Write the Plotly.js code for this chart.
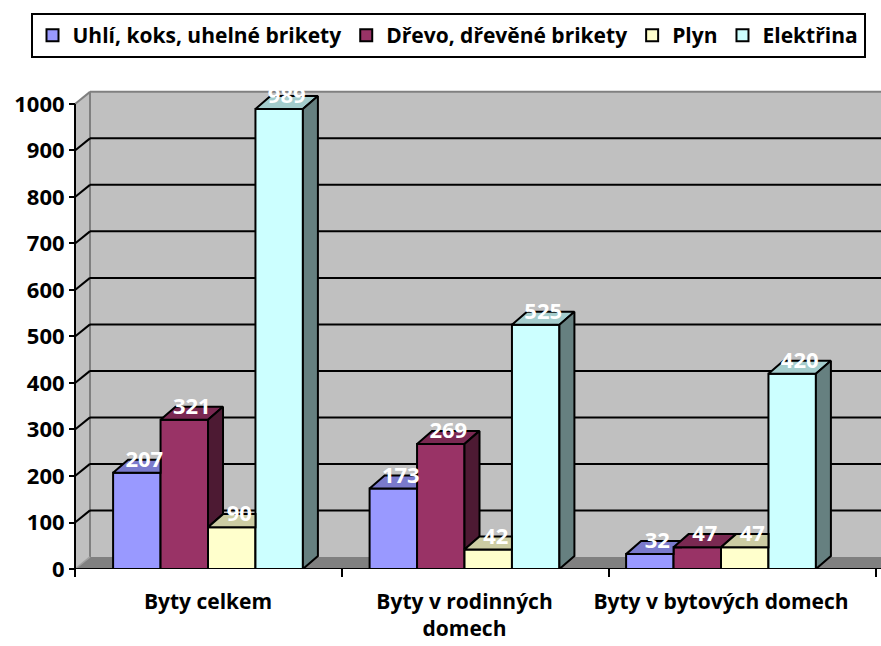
<!DOCTYPE html>
<html>
<head>
<meta charset="utf-8">
<script src="https://cdn.plot.ly/plotly-3.0.1.min.js"></script>
<style>html,body{margin:0;padding:0;background:#fff;}#chart{width:881px;height:646px;}</style>
</head>
<body>
<div id="chart"></div>
<script>
// ---- data ----
const categories = ['Byty celkem', 'Byty v rodinných domech', 'Byty v bytových domech'];
const tickLabels = ['Byty celkem', 'Byty v rodinných<br>domech', 'Byty v bytových domech'];
const seriesNames = ['Uhlí, koks, uhelné brikety', 'Dřevo, dřevěné brikety', 'Plyn', 'Elektřina'];
const uhli = [207, 173, 32];
const drevo = [321, 269, 47];
const plyn = [90, 42, 47];
const elektrina = [989, 525, 420];
const yTicks = [0, 100, 200, 300, 400, 500, 600, 700, 800, 900, 1000];

// ---- style ----
const frontColors = ['#9999FF', '#993366', '#FFFFCC', '#CCFFFF'];
const topColors = ['#7A7ACC', '#7A2952', '#CCCCA3', '#A3CCCC'];
const sideColors = ['#4D4D80', '#4D1A33', '#808066', '#668080'];
const FONT = 'Open Sans, Noto Sans, sans-serif';

const allSeries = [uhli, drevo, plyn, elektrina];
const catX = categories.map((c, j) => j);
const W = 0.185;      // bar width (x units)
const DX = 0.0585;    // depth shift x (x units)
const DY = 28;        // depth shift y (value units)
const WALL_DY = 26;
const FW = 881, PH = 479;
const P = px => px / FW;   // pixel -> paper (plot spans full width)

const traces = [];
allSeries.forEach((vals, i) => {
  traces.push({
    type: 'bar', name: seriesNames[i], x: catX, y: vals,
    width: W, offset: -2 * W + i * W,
    marker: {color: frontColors[i], line: {color: '#000', width: 2}},
    hoverinfo: 'name+y'
  });
});

// depth faces computed from the same values
allSeries.forEach((vals, i) => {
  const tx = [], ty = [], sx = [], sy = [];
  vals.forEach((v, j) => {
    const xl = catX[j] - 2 * W + i * W, xr = xl + W;
    const w = i < allSeries.length - 1 ? allSeries[i + 1][j] : null;
    let pts;
    if (w !== null && w >= v + DY) {
      pts = [[xl, v], [xr, v], [xr, v + DY], [xl + DX, v + DY]];
    } else if (w !== null && w > v) {
      pts = [[xl, v], [xr, v], [xr, w], [xr + (w - v) / DY * DX, w], [xr + DX, v + DY], [xl + DX, v + DY]];
    } else {
      pts = [[xl, v], [xr, v], [xr + DX, v + DY], [xl + DX, v + DY]];
    }
    pts.push(pts[0]);
    pts.forEach(p => { tx.push(p[0]); ty.push(p[1]); });
    tx.push(null); ty.push(null);
    let b = 0, show = true;
    if (w !== null) { if (w >= v) show = false; else b = w; }
    if (show) {
      const sp = [[xr, b], [xr + DX, b + DY], [xr + DX, v + DY], [xr, v], [xr, b]];
      sp.forEach(p => { sx.push(p[0]); sy.push(p[1]); });
      sx.push(null); sy.push(null);
    }
  });
  traces.push({type: 'scatter', mode: 'lines', x: tx, y: ty, fill: 'toself', fillcolor: topColors[i],
    line: {color: '#000', width: 2}, showlegend: false, hoverinfo: 'skip'});
  traces.push({type: 'scatter', mode: 'lines', x: sx, y: sy, fill: 'toself', fillcolor: sideColors[i],
    line: {color: '#000', width: 2}, showlegend: false, hoverinfo: 'skip'});
});

// data labels on top faces
allSeries.forEach((vals, i) => {
  traces.push({
    type: 'scatter', mode: 'text',
    x: vals.map((v, j) => catX[j] - 2 * W + i * W + W / 2 + DX / 2),
    y: vals.map(v => v + DY / 2 + 10),
    text: vals.map(String), textposition: 'middle center',
    textfont: {family: FONT, size: 22, color: '#FFFFFF', weight: 'bold'},
    showlegend: false, hoverinfo: 'skip', cliponaxis: false
  });
});

// ---- wall / axis decorations ----
const shapes = [];
const X0 = P(75), XW = P(90), XR = P(881);
shapes.push({type: 'rect', xref: 'paper', yref: 'y', x0: XW, x1: XR, y0: WALL_DY, y1: 1000 + WALL_DY,
  fillcolor: '#C0C0C0', line: {width: 0}, layer: 'below'});
shapes.push({type: 'path', xref: 'paper', yref: 'y',
  path: `M${X0},0 L${XW},${WALL_DY} L${XW},${1000 + WALL_DY} L${X0},1000 Z`,
  fillcolor: '#C0C0C0', line: {width: 0}, layer: 'below'});
shapes.push({type: 'path', xref: 'paper', yref: 'y',
  path: `M${X0},0 L${XW},${WALL_DY} L${XR},${WALL_DY} L${XR},0 Z`,
  fillcolor: '#808080', line: {width: 0}, layer: 'below'});
shapes.push({type: 'line', xref: 'paper', yref: 'y', x0: XW, x1: XW, y0: WALL_DY, y1: 1000 + WALL_DY,
  line: {color: '#808080', width: 2}, layer: 'below'});
shapes.push({type: 'line', xref: 'paper', yref: 'y', x0: XW, x1: XR, y0: 1000 + WALL_DY, y1: 1000 + WALL_DY,
  line: {color: '#808080', width: 2}, layer: 'below'});
shapes.push({type: 'line', xref: 'paper', yref: 'y', x0: X0, x1: XW, y0: 1000, y1: 1000 + WALL_DY,
  line: {color: '#808080', width: 2}, layer: 'below'});
shapes.push({type: 'line', xref: 'paper', yref: 'y', x0: X0, x1: XW, y0: 0, y1: WALL_DY,
  line: {color: '#A0A0A0', width: 1.5}, layer: 'below'});
yTicks.filter(t => t > 0 && t < 1000).forEach(t => {
  shapes.push({type: 'line', xref: 'paper', yref: 'y', x0: XW, x1: XR, y0: t + WALL_DY, y1: t + WALL_DY,
    line: {color: '#000', width: 2}, layer: 'below'});
  shapes.push({type: 'line', xref: 'paper', yref: 'y', x0: X0, x1: XW, y0: t, y1: t + WALL_DY,
    line: {color: '#000', width: 2}, layer: 'below'});
});
shapes.push({type: 'line', xref: 'paper', yref: 'y', x0: X0, x1: X0, y0: 0, y1: 1000, line: {color: '#000', width: 2}});
shapes.push({type: 'line', xref: 'paper', yref: 'y', x0: X0, x1: XR, y0: 0, y1: 0, line: {color: '#000', width: 2}});
[75, 342, 609, 876].forEach(px => {
  shapes.push({type: 'line', xref: 'paper', yref: 'paper', x0: P(px), x1: P(px), y0: 0, y1: -8 / PH,
    line: {color: '#000', width: 2}});
});

const layout = {
  width: 881, height: 646,
  margin: {l: 0, r: 0, t: 90, b: 77, pad: 0, autoexpand: false},
  paper_bgcolor: '#FFFFFF', plot_bgcolor: 'rgba(0,0,0,0)',
  barmode: 'overlay',
  showlegend: true,
  legend: {orientation: 'h', x: P(448), xanchor: 'center', y: 1 + (90 - 13) / PH, yanchor: 'top',
    bordercolor: '#000', borderwidth: 2, bgcolor: '#FFFFFF',
    font: {family: FONT, size: 21, color: '#000', weight: 'bold'}, itemwidth: 30},
  xaxis: {range: [(0 - 208) / 256.5, (881 - 208) / 256.5], tickvals: catX, ticktext: tickLabels, ticks: '',
    showgrid: false, zeroline: false, showline: false, ticklabelstandoff: 18,
    tickfont: {family: FONT, size: 21, color: '#000', weight: 'bold'}, fixedrange: true},
  yaxis: {range: [0, 1030], anchor: 'free', position: P(75), tickvals: yTicks, ticks: 'outside', ticklen: 6,
    tickwidth: 2, tickcolor: '#000', showgrid: false, zeroline: false, showline: false,
    tickfont: {family: FONT, size: 22, color: '#000', weight: 'bold'}, fixedrange: true},
  shapes: shapes
};

Plotly.newPlot('chart', traces, layout, {displayModeBar: false, staticPlot: true});
</script>
</body>
</html>
